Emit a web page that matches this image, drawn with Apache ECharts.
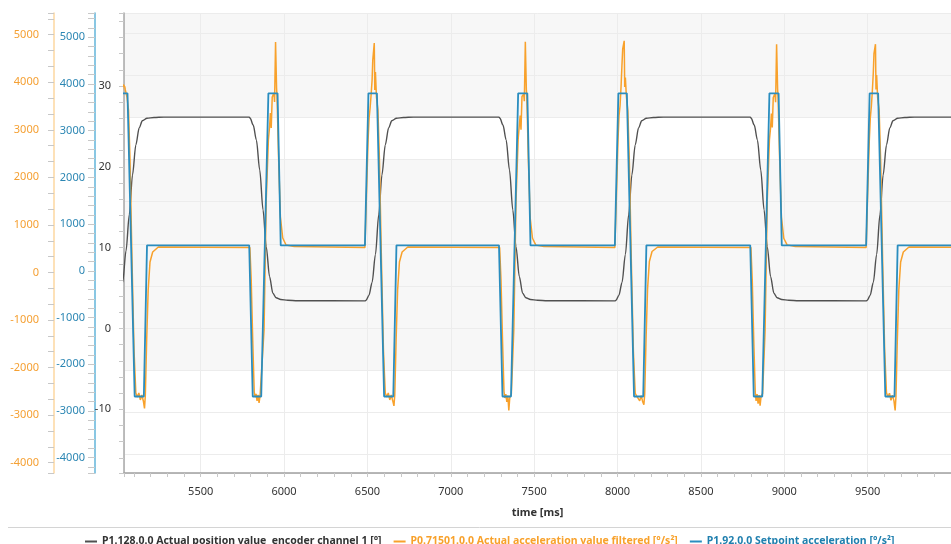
<!DOCTYPE html>
<html>
<head>
<meta charset="utf-8">
<script src="https://cdn.jsdelivr.net/npm/echarts@6/dist/echarts.min.js"></script>
<style>
  html, body { margin: 0; padding: 0; background: #fff; }
  #chart { width: 951px; height: 544px; }
</style>
</head>
<body>
<div id="chart"></div>
<script>
// series names (legend)
let seriesNames = [
    'P1.128.0.0 Actual position value  encoder channel 1 [°]',
    'P0.71501.0.0 Actual acceleration value filtered [°/s²]',
    'P1.92.0.0 Setpoint acceleration [°/s²]'
];

// actual position [°], time [ms] -> value
let positionData = [
    [4989, 3.45], [4995, 3.47], [5013, 4.09], [5032, 5.69], [5052, 9.6], [5072, 14.1], [5091, 19.0], [5111, 22.7], [5131, 24.8], [5150, 25.7], [5178, 26.0], [5220, 26.1], [5279, 26.15],
    [5791, 26.15], [5797, 26.0], [5815, 25.17], [5834, 23.32], [5854, 19.61], [5874, 14.66], [5893, 10.12], [5913, 6.41], [5933, 4.35], [5952, 3.81], [5980, 3.59], [6022, 3.49], [6081, 3.43],
    [6485, 3.42], [6491, 3.47], [6509, 4.09], [6528, 5.69], [6548, 9.15], [6568, 14.1], [6587, 19.0], [6607, 22.7], [6627, 24.8], [6646, 25.7], [6674, 26.0], [6716, 26.1], [6775, 26.15],
    [7289, 26.15], [7295, 26.0], [7313, 25.17], [7332, 23.32], [7352, 19.61], [7372, 14.66], [7391, 10.12], [7411, 6.41], [7431, 4.35], [7450, 3.81], [7478, 3.59], [7520, 3.49], [7579, 3.43],
    [7984, 3.42], [7990, 3.47], [8008, 4.09], [8027, 5.69], [8047, 9.15], [8067, 14.1], [8086, 19.0], [8106, 22.7], [8126, 24.8], [8145, 25.7], [8173, 26.0], [8215, 26.1], [8274, 26.15],
    [8796, 26.15], [8802, 26.0], [8820, 25.17], [8839, 23.32], [8859, 19.61], [8879, 14.66], [8898, 10.12], [8918, 6.41], [8938, 4.35], [8957, 3.81], [8985, 3.59], [9027, 3.49], [9086, 3.43],
    [9491, 3.42], [9497, 3.47], [9515, 4.09], [9534, 5.69], [9554, 9.15], [9574, 14.1], [9593, 19.0], [9613, 22.7], [9633, 24.8], [9652, 25.7], [9680, 26.0], [9722, 26.1], [9781, 26.15],
    [10000, 26.15]
];

// actual acceleration filtered [°/s²]
let accelData = [
    [4989, 526], [4999, 1735], [5008, 2786], [5014, 3248], [5020, 3459], [5026, 3732], [5032, 3880], [5036, 3950], [5045, 3900], [5048, 3837], [5052, 3860], [5058, 3690], [5067, 3417], [5076, 2365], [5088, 263], [5100, -1629], [5111, -2534], [5120, -2618], [5129, -2534], [5138, -2681], [5147, -2576], [5156, -2702], [5163, -2860], [5168, -2576], [5176, -1419], [5185, -368], [5196, 221], [5212, 431], [5246, 536],
    [5795, 526], [5803, -158], [5812, -1419], [5821, -2513], [5826, -2618], [5832, -2555], [5838, -2702], [5844, -2576], [5850, -2744], [5856, -2597], [5865, -2555], [5880, -1209], [5893, 1524], [5906, 2786], [5913, 3060], [5918, 3354], [5923, 3039], [5929, 3690], [5939, 3774], [5943, 3585], [5949, 4847], [5955, 3879], [5958, 3690], [5967, 2429], [5978, 1167], [5992, 725], [6012, 578], [6061, 547],
    [6485, 526], [6495, 1735], [6504, 2786], [6510, 3248], [6516, 3459], [6522, 3732], [6528, 4048], [6532, 4468], [6541, 4826], [6544, 3837], [6548, 4216], [6554, 3690], [6563, 3417], [6572, 2365], [6584, 263], [6596, -1629], [6607, -2534], [6616, -2618], [6625, -2534], [6634, -2681], [6643, -2576], [6652, -2702], [6659, -2807], [6664, -2576], [6672, -1419], [6681, -368], [6692, 221], [6708, 431], [6742, 536],
    [7293, 526], [7301, -150], [7310, -1400], [7319, -2500], [7324, -2640], [7330, -2560], [7336, -2720], [7342, -2590], [7348, -2900], [7354, -2620], [7363, -2560], [7378, -1200], [7391, 1500], [7404, 2800], [7411, 3100], [7416, 3300], [7421, 3000], [7427, 3700], [7437, 3750], [7441, 3600], [7447, 4850], [7453, 3850], [7456, 3700], [7465, 2400], [7476, 1150], [7490, 720], [7510, 575], [7559, 545],
    [7984, 526], [7994, 1700], [8003, 2800], [8009, 3300], [8015, 3500], [8021, 3900], [8027, 4400], [8031, 4700], [8040, 4870], [8043, 3900], [8047, 4100], [8053, 3700], [8062, 3400], [8071, 2300], [8083, 200], [8095, -1650], [8106, -2540], [8115, -2600], [8124, -2560], [8133, -2700], [8142, -2590], [8151, -2720], [8158, -2780], [8163, -2560], [8171, -1400], [8180, -350], [8191, 230], [8207, 440], [8241, 536],
    [8800, 526], [8808, -160], [8817, -1430], [8826, -2520], [8831, -2700], [8837, -2560], [8843, -2760], [8849, -2580], [8855, -2800], [8861, -2600], [8870, -2550], [8885, -1220], [8898, 1510], [8911, 2790], [8918, 3050], [8923, 3340], [8928, 3050], [8934, 3680], [8944, 3760], [8948, 3580], [8954, 4800], [8960, 3870], [8963, 3680], [8972, 2420], [8983, 1160], [8997, 720], [9017, 580], [9066, 548],
    [9491, 526], [9501, 1750], [9510, 2780], [9516, 3250], [9522, 3480], [9528, 3800], [9534, 4200], [9538, 4600], [9547, 4800], [9550, 3850], [9554, 4150], [9560, 3680], [9569, 3420], [9578, 2350], [9590, 250], [9602, -1620], [9613, -2530], [9622, -2620], [9631, -2540], [9640, -2690], [9649, -2580], [9658, -2700], [9665, -2900], [9670, -2600], [9678, -1420], [9687, -370], [9698, 220], [9714, 430], [9748, 536],
    [10000, 530]
];

// setpoint acceleration [°/s²]
let setpointData = [
    [4989, 545], [5010, 3800], [5061, 3800], [5104, -2690], [5159, -2690], [5178, 545],
    [5791, 545], [5812, -2690], [5863, -2690], [5906, 3800], [5961, 3800], [5980, 545],
    [6485, 545], [6506, 3800], [6557, 3800], [6600, -2690], [6655, -2690], [6674, 545],
    [7289, 545], [7310, -2690], [7361, -2690], [7404, 3800], [7459, 3800], [7478, 545],
    [7984, 545], [8005, 3800], [8056, 3800], [8099, -2690], [8154, -2690], [8173, 545],
    [8796, 545], [8817, -2690], [8868, -2690], [8911, 3800], [8966, 3800], [8985, 545],
    [9491, 545], [9512, 3800], [9563, 3800], [9606, -2690], [9661, -2690], [9680, 545],
    [10000, 545]
];

// axis ranges
let timeRange = [5040, 10000];
let positionRange = [-17.88, 39.03];
let setpointRange = [-4328, 5520];
let accelRange = [-4217, 5456];

let font = 'Noto Sans';
let black = '#505050', orange = '#f8a12b', blue = '#2a8dbf';
let grey = '#f7f7f7', white = '#ffffff';
let plain = (v) => String(v);

let chart = echarts.init(document.getElementById('chart'));

let option = {
    animation: false,
    backgroundColor: '#fff',
    textStyle: { fontFamily: font },
    grid: { left: 124, right: -12, top: 13, bottom: 71 },
    legend: {
        left: 80,
        top: 531,
        icon: 'rect',
        itemWidth: 12,
        itemHeight: 2,
        itemGap: 12,
        textStyle: { fontFamily: font, fontSize: 10.5, fontWeight: 'bold' },
        data: [
            { name: seriesNames[0], textStyle: { color: '#333' } },
            { name: seriesNames[1], textStyle: { color: orange } },
            { name: seriesNames[2], textStyle: { color: '#1f7fae' } }
        ]
    },
    graphic: [{
        type: 'line',
        shape: { x1: 8, y1: 527.5, x2: 951, y2: 527.5 },
        style: { stroke: '#d4d4d4', lineWidth: 1 }
    }],
    xAxis: {
        type: 'value',
        min: timeRange[0],
        max: timeRange[1],
        minInterval: 500,
        maxInterval: 500,
        name: 'time [ms]',
        nameLocation: 'middle',
        nameGap: 34,
        nameTextStyle: { color: '#333', fontSize: 11, fontWeight: 'bold', fontFamily: font },
        axisLine: { onZero: false, lineStyle: { color: '#a0a0a0', width: 1.5 } },
        axisTick: { length: 4, lineStyle: { color: '#c8c8c8' } },
        minorTick: { show: true, splitNumber: 5, length: 4, lineStyle: { color: '#c8c8c8' } },
        axisLabel: { color: '#333', fontSize: 11, margin: 13, showMinLabel: false, showMaxLabel: false, formatter: plain },
        splitLine: { show: true, lineStyle: { color: '#ececec' } }
    },
    yAxis: [
        {
            type: 'value',
            position: 'left',
            min: positionRange[0],
            max: positionRange[1],
            minInterval: 10,
            maxInterval: 10,
            axisLine: { show: true, onZero: false, lineStyle: { color: '#a8a8a8', width: 1.5 } },
            axisTick: { show: true, length: 5, lineStyle: { color: '#c8c8c8' } },
            minorTick: { show: true, splitNumber: 5, length: 5, lineStyle: { color: '#c8c8c8' } },
            axisLabel: { color: '#333', fontSize: 11, margin: 13, showMinLabel: false, showMaxLabel: false, formatter: plain },
            splitLine: { show: false }
        },
        {
            type: 'value',
            position: 'left',
            offset: 29,
            min: setpointRange[0],
            max: setpointRange[1],
            minInterval: 1000,
            maxInterval: 1000,
            axisLine: { show: true, onZero: false, lineStyle: { color: '#62b4da', width: 1.5 } },
            axisTick: { show: true, length: 7, lineStyle: { color: '#c8c8c8' } },
            minorTick: { show: true, splitNumber: 5, length: 7, lineStyle: { color: '#c8c8c8' } },
            axisLabel: { color: '#2b86b3', fontSize: 11, margin: 10, showMinLabel: false, showMaxLabel: false, formatter: plain },
            splitLine: { show: false }
        },
        {
            type: 'value',
            position: 'left',
            offset: 70,
            min: accelRange[0],
            max: accelRange[1],
            minInterval: 1000,
            maxInterval: 1000,
            axisLine: { show: true, onZero: false, lineStyle: { color: '#fdd7a0', width: 1.5 } },
            axisTick: { show: true, length: 6, lineStyle: { color: '#c8c8c8' } },
            minorTick: { show: true, splitNumber: 3, length: 6, lineStyle: { color: '#c8c8c8' } },
            axisLabel: { color: '#f5a033', fontSize: 11, margin: 15, showMinLabel: false, showMaxLabel: false, formatter: plain },
            splitLine: { show: false }
        },
        {
            // background bands only
            type: 'value',
            min: -3.444,
            max: 7.482,
            minInterval: 1,
            maxInterval: 1,
            axisLine: { show: false },
            axisTick: { show: false },
            axisLabel: { show: false },
            splitLine: { show: true, lineStyle: { color: '#ececec' } },
            splitArea: {
                show: true,
                areaStyle: { color: [white, white, white, grey, grey, grey, grey, grey, white, grey, grey, grey] }
            }
        }
    ],
    series: [
        {
            name: seriesNames[0],
            type: 'line',
            yAxisIndex: 0,
            data: positionData,
            showSymbol: false,
            smooth: 0.3,
            smoothMonotone: 'x',
            lineStyle: { color: black, width: 1.4 },
            itemStyle: { color: black }
        },
        {
            name: seriesNames[1],
            type: 'line',
            yAxisIndex: 2,
            data: accelData,
            showSymbol: false,
            lineStyle: { color: orange, width: 1.5 },
            itemStyle: { color: orange }
        },
        {
            name: seriesNames[2],
            type: 'line',
            yAxisIndex: 1,
            data: setpointData,
            showSymbol: false,
            lineStyle: { color: blue, width: 1.8 },
            itemStyle: { color: blue }
        }
    ]
};
chart.setOption(option);
</script>
</body>
</html>
